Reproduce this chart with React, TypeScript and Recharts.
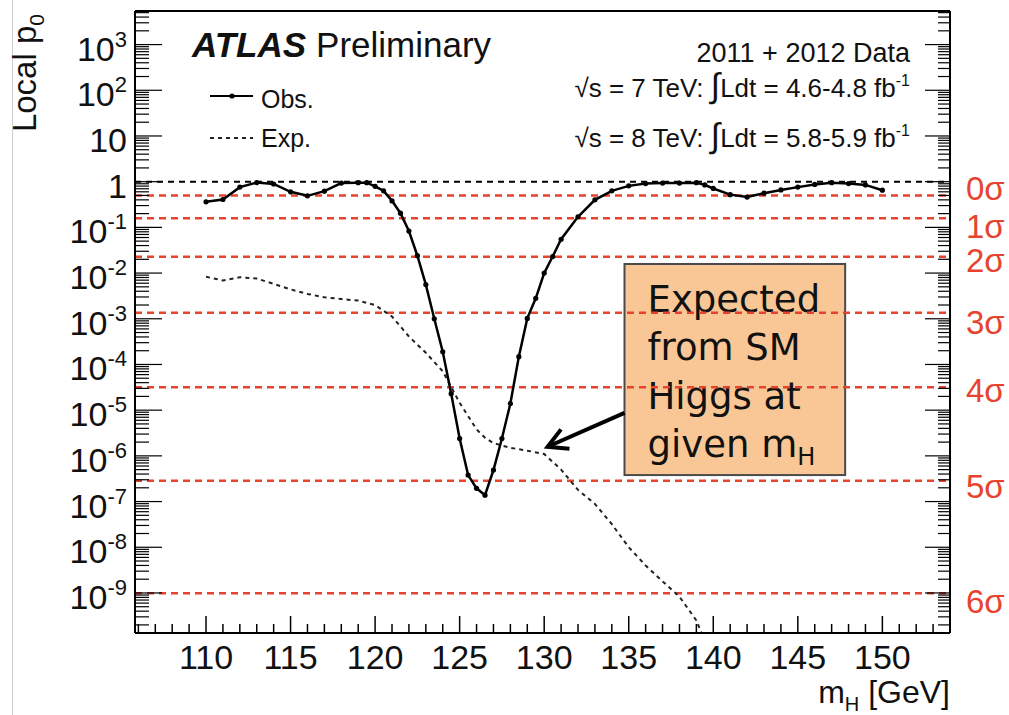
import React from "react";
import {LineChart, Line, XAxis, YAxis, ReferenceLine, ReferenceArea} from "recharts";

// observed local p0 vs mH
const obsMass = [
  110, 111, 112, 113, 114, 115, 116, 117, 118, 119, 119.5, 120, 120.5, 121, 121.5, 122, 122.5, 123, 123.5, 124,
  124.5, 125, 125.5, 126, 126.5, 127, 127.5, 128, 128.5, 129, 129.5, 130, 130.5, 131, 132, 133, 134, 135, 136, 137,
  138, 139, 139.5, 140, 141, 142, 143, 144, 145, 146, 147, 148, 149, 150,
];
const obsP = [
  0.363, 0.407, 0.76, 0.955, 0.89, 0.6, 0.49, 0.62, 0.93, 0.95, 0.95, 0.79, 0.63, 0.38, 0.204, 0.083, 0.024, 0.0056,
  1.0e-3, 1.9e-4, 2.3e-5, 2.4e-6, 3.8e-7, 1.95e-7, 1.38e-7, 4.9e-7, 2.4e-6, 1.4e-5, 1.48e-4, 1.02e-3, 2.8e-3, 0.01,
  0.023, 0.055, 0.17, 0.4, 0.63, 0.81, 0.91, 0.93, 0.93, 0.95, 0.85, 0.71, 0.52, 0.46, 0.56, 0.66, 0.76, 0.87, 0.95,
  0.91, 0.85, 0.65,
];

// expected local p0 for a SM Higgs
const expMass = [
  110, 111, 112, 113, 114, 115, 116, 117, 118, 119, 120, 121, 122, 123, 124, 125, 126, 126.5, 127, 128, 129, 130, 131,
  132, 133, 134, 135, 136, 137, 138, 139, 140,
];
const expP = [
  8.3e-3, 6.9e-3, 8.1e-3, 7.6e-3, 5.8e-3, 4.4e-3, 3.5e-3, 2.95e-3, 2.7e-3, 2.5e-3, 2.0e-3, 1.12e-3, 4.1e-4, 1.8e-4,
  7.1e-5, 1.45e-5, 3.8e-6, 2.5e-6, 1.9e-6, 1.5e-6, 1.3e-6, 1.1e-6, 5.0e-7, 1.8e-7, 8.9e-8, 3.2e-8, 1.0e-8, 4.0e-9,
  1.8e-9, 8.3e-10, 2.5e-10, 3.2e-11,
];

const sigmaP = [0.5, 0.1587, 0.02275, 0.00135, 3.167e-5, 2.867e-7, 9.866e-10];
const sigmaLabels = ["0σ", "1σ", "2σ", "3σ", "4σ", "5σ", "6σ"];
const sigmaLabelDy = [5, 20, 15, 21, 15, 17, 20];

const xTickLabels = ["110", "115", "120", "125", "130", "135", "140", "145", "150"];
const yTickExps = [3, 2, 1, 0, -1, -2, -3, -4, -5, -6, -7, -8, -9];

const noteLines = ["Expected", "from SM", "Higgs at", "given m"];

const X_DOMAIN: [number, number] = [105.8, 154];
const Y_DOMAIN: [number, number] = [1.33e-10, 5430];

const FONT = "'Liberation Sans', Arial, Helvetica, sans-serif";
const RED = "#e8432f";

const obsData = obsMass.map((m, i) => ({m, p: obsP[i]}));
const expData = expMass.map((m, i) => ({m, p: expP[i]}));

const xTicks: number[] = [];
for (let v = 106; v <= 153; v++) xTicks.push(v);

const yTicks: number[] = [];
for (let n = -10; n <= 3; n++) {
  for (let k = 1; k <= 9; k++) {
    const v = k * Math.pow(10, n);
    if (v >= Y_DOMAIN[0] && v <= Y_DOMAIN[1]) yTicks.push(v);
  }
}

const isDecade = (v: number) => Math.abs(Math.log10(v) - Math.round(Math.log10(v))) < 1e-9;

function BottomTick({x, y, payload}: any) {
  const major = xTickLabels.includes(String(payload.value));
  return (
    <g>
      <line x1={x} y1={y} x2={x} y2={y - (major ? 17 : 9)} stroke="#000" strokeWidth={1.5} />
      {major && (
        <text x={x} y={y + 36} textAnchor="middle" fontSize={34} fontFamily={FONT} fill="#111">
          {payload.value}
        </text>
      )}
    </g>
  );
}

function TopTick({x, y, payload}: any) {
  const major = xTickLabels.includes(String(payload.value));
  return <line x1={x} y1={y} x2={x} y2={y + (major ? 17 : 9)} stroke="#000" strokeWidth={1.5} />;
}

function LeftTick({x, y, payload}: any) {
  const v = payload.value;
  const major = isDecade(v);
  const n = Math.round(Math.log10(v));
  const labelled = major && yTickExps.includes(n);
  return (
    <g>
      <line x1={x} y1={y} x2={x + (major ? 27 : 14)} y2={y} stroke="#000" strokeWidth={1.2} />
      {labelled && (
        <text x={x - 8} y={y + 16} textAnchor="end" fontSize={34} fontFamily={FONT} fill="#111">
          {n === 0 ? "1" : "10"}
          {n !== 0 && n !== 1 && (
            <tspan dy={-14} fontSize={22}>
              {n}
            </tspan>
          )}
        </text>
      )}
    </g>
  );
}

function RightTick({x, y, payload}: any) {
  const major = isDecade(payload.value);
  return <line x1={x} y1={y} x2={x - (major ? 25 : 12)} y2={y} stroke="#000" strokeWidth={1.2} />;
}

function SigmaTick({x, y, index}: any) {
  return (
    <text x={x + 15} y={y + sigmaLabelDy[index]} fontSize={33} fontFamily={FONT} fill={RED}>
      {sigmaLabels[index]}
    </text>
  );
}

function NoteBox({x, y, width, height}: any) {
  return (
    <g>
      <rect x={x} y={y} width={width} height={height} fill="#f9c795" stroke="#4a4a4a" strokeWidth={2} />
      {noteLines.map((t, i) => (
        <text key={t} x={x + 23} y={y + 48 + i * 48.5} fontSize={37} fontFamily="'DejaVu Sans', sans-serif" fill="#111">
          {t}
          {i === noteLines.length - 1 && (
            <tspan dy={8} fontSize={24}>
              H
            </tspan>
          )}
        </text>
      ))}
    </g>
  );
}

function Arrow({x1, y1, x2, y2}: any) {
  const ang = Math.atan2(y2 - y1, x2 - x1);
  const len = 22;
  const a = 0.5;
  const p1 = [x2 - len * Math.cos(ang - a), y2 - len * Math.sin(ang - a)];
  const p2 = [x2 - len * Math.cos(ang + a), y2 - len * Math.sin(ang + a)];
  return (
    <g>
      <line x1={x1} y1={y1} x2={x2} y2={y2} stroke="#000" strokeWidth={4} />
      <polyline
        points={`${p1[0]},${p1[1]} ${x2},${y2} ${p2[0]},${p2[1]}`}
        fill="none"
        stroke="#000"
        strokeWidth={4}
        strokeLinejoin="miter"
      />
    </g>
  );
}

export default function App() {
  return (
    <div style={{position: "absolute", left: 0, top: 0, width: 1009, height: 715, background: "#fff", overflow: "hidden"}}>
      <div style={{position: "absolute", left: 12, top: 0, width: 1, height: 715, background: "#cfcfcf"}} />
      <LineChart width={1009} height={715} margin={{top: 10, right: 57, bottom: 81, left: 134}}>
        <XAxis
          dataKey="m"
          type="number"
          domain={X_DOMAIN}
          allowDataOverflow
          ticks={xTicks}
          interval={0}
          height={1}
          tickSize={0}
          tickMargin={0}
          tickLine={false}
          axisLine={{stroke: "#000", strokeWidth: 2}}
          tick={<BottomTick />}
        />
        <XAxis
          xAxisId="top"
          orientation="top"
          type="number"
          domain={X_DOMAIN}
          allowDataOverflow
          ticks={xTicks}
          interval={0}
          height={1}
          tickSize={0}
          tickMargin={0}
          tickLine={false}
          axisLine={{stroke: "#000", strokeWidth: 2}}
          tick={<TopTick />}
        />
        <YAxis
          type="number"
          scale="log"
          domain={Y_DOMAIN}
          allowDataOverflow
          ticks={yTicks}
          interval={0}
          width={1}
          tickSize={0}
          tickMargin={0}
          tickLine={false}
          axisLine={{stroke: "#000", strokeWidth: 2}}
          tick={<LeftTick />}
        />
        <YAxis
          yAxisId="right"
          orientation="right"
          type="number"
          scale="log"
          domain={Y_DOMAIN}
          allowDataOverflow
          ticks={yTicks}
          interval={0}
          width={1}
          tickSize={0}
          tickMargin={0}
          tickLine={false}
          axisLine={{stroke: "#000", strokeWidth: 2}}
          tick={<RightTick />}
        />
        <YAxis
          yAxisId="sigma"
          orientation="right"
          type="number"
          scale="log"
          domain={Y_DOMAIN}
          allowDataOverflow
          ticks={sigmaP}
          interval={0}
          width={1}
          tickSize={0}
          tickMargin={0}
          tickLine={false}
          axisLine={false}
          tick={<SigmaTick />}
        />

        {sigmaP.map((p) => (
          <ReferenceLine key={p} y={p} stroke={RED} strokeWidth={2.5} strokeDasharray="7 5" />
        ))}
        <ReferenceLine y={1} stroke="#000" strokeWidth={2} strokeDasharray="6 5" />

        <Line
          data={expData}
          dataKey="p"
          type="linear"
          stroke="#222"
          strokeWidth={2}
          strokeDasharray="4 4"
          dot={false}
          isAnimationActive={false}
        />
        <Line
          data={obsData}
          dataKey="p"
          type="linear"
          stroke="#000"
          strokeWidth={2.5}
          dot={{r: 2.6, fill: "#000", stroke: "#000", strokeWidth: 0}}
          isAnimationActive={false}
        />

        <ReferenceArea x1={134.75} x2={147.8} y1={3.8e-7} y2={0.0158} shape={<NoteBox />} />
        <ReferenceLine
          segment={[
            {x: 134.75, y: 8.7e-6},
            {x: 130.2, y: 1.58e-6},
          ]}
          shape={<Arrow />}
        />
      </LineChart>

      <svg width={1009} height={715} style={{position: "absolute", left: 0, top: 0, pointerEvents: "none"}}>
        <text x={192} y={57} fontSize={35} fontFamily={FONT} fill="#111">
          <tspan fontWeight="bold" fontStyle="italic">
            ATLAS
          </tspan>
          <tspan dx={10}>Preliminary</tspan>
        </text>

        <line x1={210} y1={96} x2={253} y2={96} stroke="#000" strokeWidth={2} />
        <circle cx={232} cy={96} r={2.6} fill="#000" />
        <text x={261} y={108} fontSize={25} fontFamily={FONT} fill="#111">
          Obs.
        </text>
        <line x1={210} y1={138} x2={253} y2={138} stroke="#222" strokeWidth={2} strokeDasharray="4 4" />
        <text x={261} y={147} fontSize={25} fontFamily={FONT} fill="#111">
          Exp.
        </text>

        <text x={910} y={62} textAnchor="end" fontSize={27} fontFamily={FONT} fill="#111">
          2011 + 2012 Data
        </text>
        <text x={910} y={97} textAnchor="end" fontSize={26} fontFamily={FONT} fill="#111">
          √s = 7 TeV:  <tspan fontSize={34}>∫</tspan>Ldt = 4.6-4.8 fb
          <tspan dy={-11} fontSize={16}>
            -1
          </tspan>
        </text>
        <text x={910} y={147} textAnchor="end" fontSize={26} fontFamily={FONT} fill="#111">
          √s = 8 TeV:  <tspan fontSize={34}>∫</tspan>Ldt = 5.8-5.9 fb
          <tspan dy={-11} fontSize={16}>
            -1
          </tspan>
        </text>

        <text x={950} y={703} textAnchor="end" fontSize={32} fontFamily={FONT} fill="#111">
          m
          <tspan dy={8} fontSize={20}>
            H
          </tspan>
          <tspan dy={-8}> [GeV]</tspan>
        </text>

        <text transform="translate(36,14) rotate(-90)" textAnchor="end" fontSize={33} fontFamily={FONT} fill="#111">
          Local p
          <tspan dy={8} fontSize={21}>
            0
          </tspan>
        </text>
      </svg>
    </div>
  );
}
